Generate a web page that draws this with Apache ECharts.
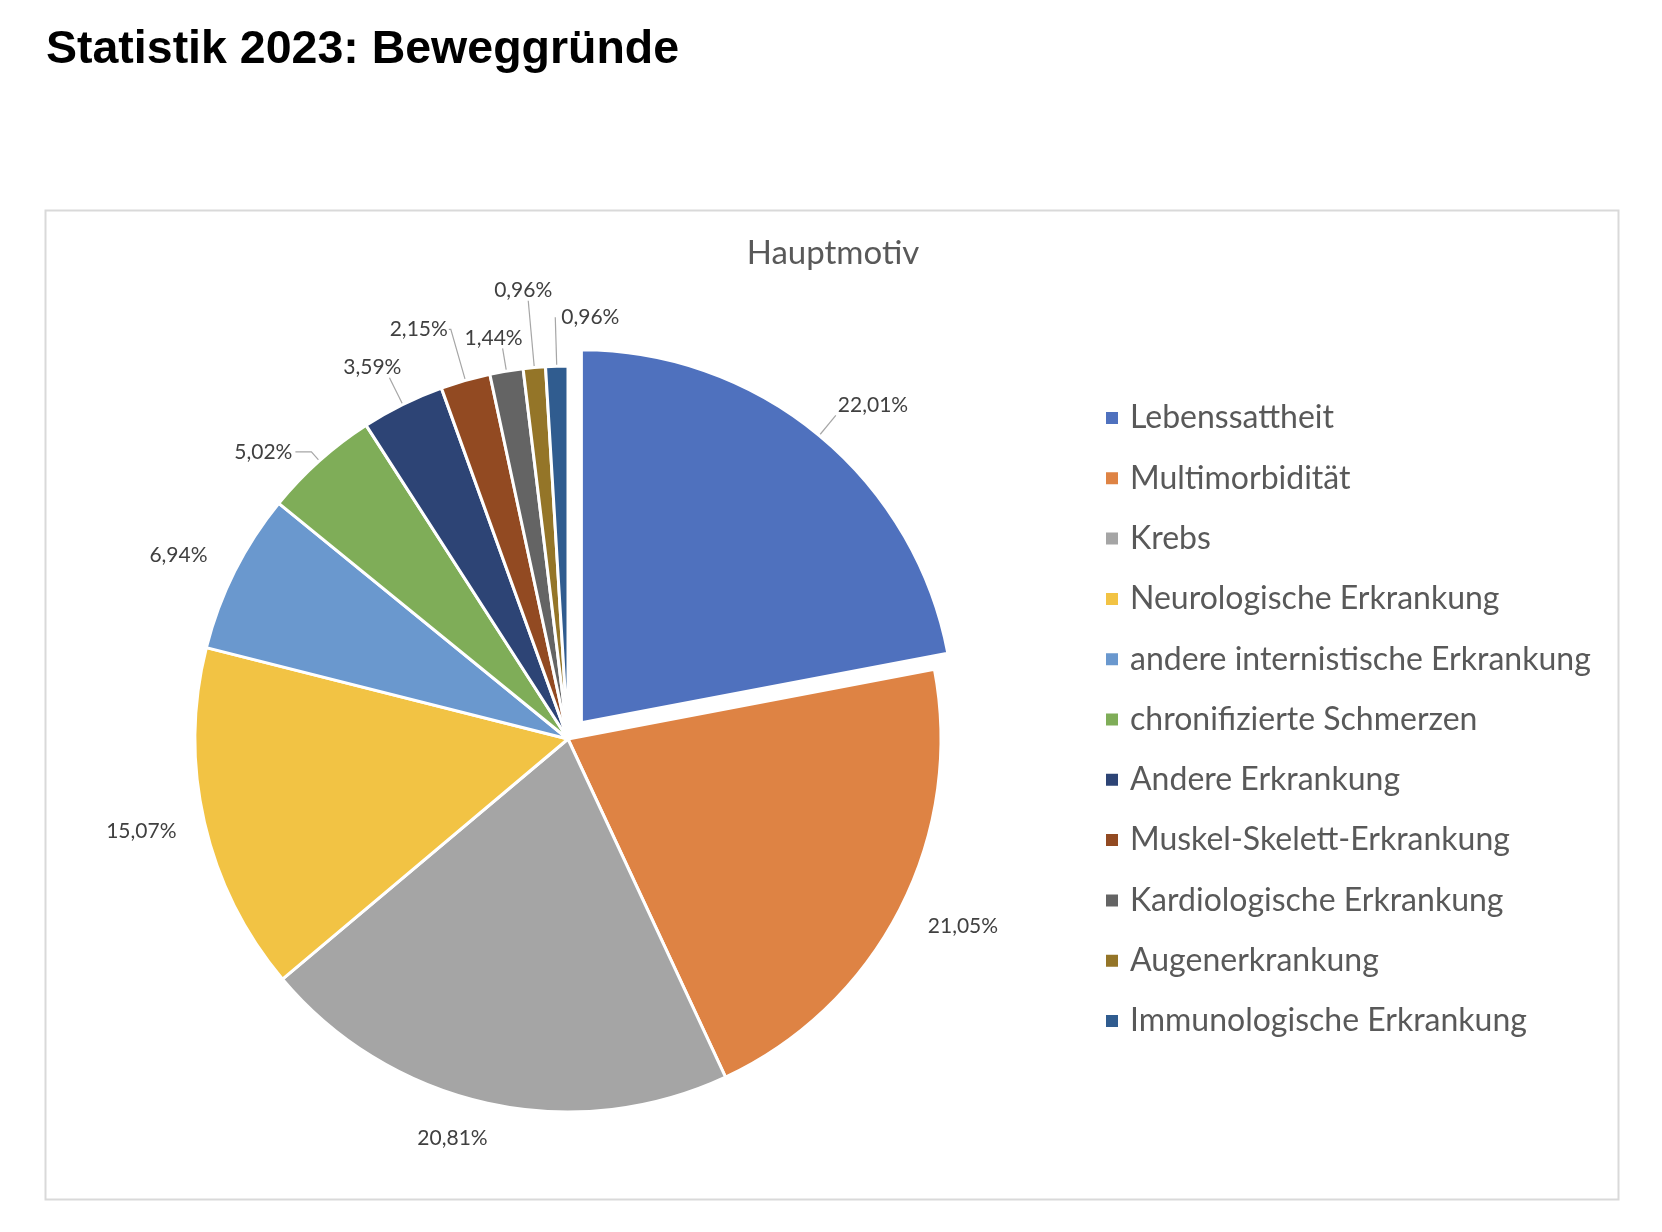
<!DOCTYPE html>
<html>
<head>
<meta charset="utf-8">
<title>Statistik 2023: Beweggründe</title>
<script src="https://cdn.jsdelivr.net/npm/echarts/dist/echarts.min.js"></script>
<style>
  html, body { margin: 0; padding: 0; background: #fff; }
  #chart { width: 1662px; height: 1232px; }
</style>
</head>
<body>
<div id="chart"></div>
<script>
const categories = [
  'Lebenssattheit',
  'Multimorbidität',
  'Krebs',
  'Neurologische Erkrankung',
  'andere internistische Erkrankung',
  'chronifizierte Schmerzen',
  'Andere Erkrankung',
  'Muskel-Skelett-Erkrankung',
  'Kardiologische Erkrankung',
  'Augenerkrankung',
  'Immunologische Erkrankung'
]
const shares = [22.01, 21.05, 20.81, 15.07, 6.94, 5.02, 3.59, 2.15, 1.44, 0.96, 0.96]

const colors = ['#4F71BE', '#DE8344', '#A5A5A5', '#F2C344', '#6A98CE', '#7FAD58',
  '#2D4475', '#924A22', '#646464', '#947528', '#305C8F']

// label placement per slice, tuned by eye against the Excel original
const labelTweak = [
  { len: 26, len2: 0, dist: 2, line: true, align: 'left', valign: 'bottom' },
  { len: 38, len2: 0, dist: -6, line: false },
  { len: 36, len2: 0, dist: -8, line: false },
  { len: 40, len2: 0, dist: -11, line: false },
  { len: 36, len2: 0, dist: -5, line: false },
  { len: 12, len2: 16, dist: 3, line: true },
  { len: 30, len2: 0, dist: -12, line: true, align: 'right', valign: 'bottom' },
  { len: 53, len2: 2, dist: 1, line: true },
  { len: 23, len2: 0, dist: 9, line: true, align: 'center', valign: 'bottom' },
  { len: 67, len2: 0, dist: 5, line: true, align: 'center', valign: 'bottom' },
  { len: 49, len2: 0, dist: -6, line: true, align: 'left', valign: 'middle' }
]

const fmt = (v) => v.toFixed(2).replace('.', ',') + '%'

const pieData = categories.map((name, i) => {
  const t = labelTweak[i]
  return {
    name,
    value: shares[i],
    selected: i === 0,
    itemStyle: { color: colors[i] },
    label: { distanceToLabelLine: t.dist },
    labelLine: { show: t.line, length: t.len, length2: t.len2 }
  }
})

const chart = echarts.init(document.getElementById('chart'))

chart.setOption({
  animation: false,
  title: [
    {
      text: 'Statistik 2023: Beweggründe',
      left: 41,
      top: 22,
      textStyle: {
        fontFamily: 'Liberation Sans, Arial, sans-serif',
        fontWeight: 'bold',
        fontSize: 46.5,
        color: '#000'
      }
    },
    {
      text: 'Hauptmotiv',
      left: 828,
      top: 232,
      textAlign: 'center',
      textStyle: {
        fontFamily: 'Lato, sans-serif',
        fontWeight: 'normal',
        fontSize: 33,
        color: '#595959'
      }
    }
  ],
  graphic: [{
    type: 'rect',
    silent: true,
    shape: { x: 45.5, y: 210.5, width: 1573, height: 989 },
    style: { fill: 'none', stroke: '#D9D9D9', lineWidth: 2 }
  }],
  legend: {
    orient: 'vertical',
    left: 1099,
    top: 397,
    icon: 'rect',
    itemWidth: 14,
    itemHeight: 14,
    itemGap: 28.3,
    selectedMode: false,
    data: categories,
    textStyle: {
      fontFamily: 'Lato, sans-serif',
      fontSize: 32,
      lineHeight: 32,
      padding: [0, 0, 0, 6],
      color: '#595959'
    }
  },
  series: [{
    name: 'Hauptmotiv',
    type: 'pie',
    center: [568, 739],
    radius: 373,
    startAngle: 90,
    clockwise: true,
    selectedMode: 'single',
    selectedOffset: 21,
    avoidLabelOverlap: false,
    emphasis: { disabled: true },
    itemStyle: { borderColor: '#fff', borderWidth: 3 },
    label: {
      show: true,
      position: 'outside',
      formatter: (p) => fmt(p.value),
      fontFamily: 'Lato, sans-serif',
      fontSize: 21,
      color: '#404040'
    },
    labelLine: {
      smooth: false,
      lineStyle: { color: '#A6A6A6', width: 1.2 }
    },
    labelLayout: (params) => {
      const t = labelTweak[params.dataIndex]
      return t.align ? { align: t.align, verticalAlign: t.valign } : {}
    },
    data: pieData
  }]
})
</script>
</body>
</html>
